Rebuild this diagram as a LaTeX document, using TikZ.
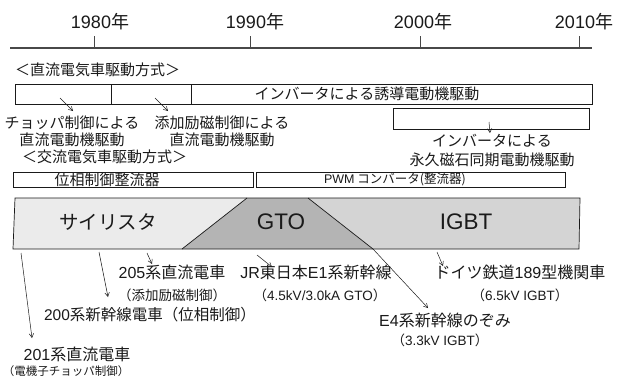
\documentclass[tikz,border=0pt]{standalone}
\usepackage{fontspec}
\setmainfont{Noto Sans CJK JP}
\newfontfamily\lat{Liberation Sans}
\usetikzlibrary{arrows.meta}
\definecolor{thy}{HTML}{EBEBEB}
\definecolor{gto}{HTML}{B4B4B4}
\definecolor{igbt}{HTML}{D4D4D4}
\definecolor{ink}{HTML}{1A1A1A}
\newcommand{\fs}[1]{\fontsize{#1}{#1}\selectfont}
\tikzset{
  tline/.style={draw=ink!80, line width=1.2pt},
  tick/.style={draw=ink!80, line width=0.8pt},
  box/.style={draw=ink, line width=0.7pt, anchor=north west, inner sep=0pt, outer sep=0pt},
  arr/.style={draw=ink, line width=0.5pt, -{Straight Barb[length=4pt,width=4.5pt]}},
  yr/.style={font=\fs{18}, inner sep=0pt, text=ink},
  hd/.style={font=\fs{15}, inner sep=0pt, anchor=west, text=ink},
  txt/.style={font=\fs{15}, inner sep=0pt, align=center, text=ink},
  low/.style={font=\fs{16}, inner sep=0pt, align=center, text=ink},
  sml/.style={font=\fs{13.5}, inner sep=0pt, align=center, text=ink},
  big/.style={font=\fs{19.5}, inner sep=0pt, text=ink},
  bigl/.style={font=\lat\fs{22.5}, inner sep=0pt, text=ink},
  band/.style={draw=ink, line width=0.7pt}
}
\begin{document}
\begin{tikzpicture}[x=1pt,y=-1pt]
\useasboundingbox (0,0) rectangle (620,378);
\fill[white] (0,0) rectangle (620,378);

% timeline
\coordinate (tlL) at (10,48);
\coordinate (tlR) at (592,48);
\draw[tline] (tlL) -- (tlR);
\node[yr] (y1980) at (100,22) {{\lat 1980}年};
\node[yr] (y1990) at (255,22) {{\lat 1990}年};
\node[yr] (y2000) at (423,22) {{\lat 2000}年};
\node[yr] (y2010) at (584,22) {{\lat 2010}年};
\coordinate (k1980) at (94,48);
\coordinate (k1990) at (250,48);
\coordinate (k2000) at (420,48);
\coordinate (k2010) at (579,48);
\foreach \k in {k1980,k1990,k2000,k2010} \draw[tick] (\k) -- ++(0,-12);

% DC drive heading and boxes
\node[hd] (hdc) at (15,70) {＜直流電気車駆動方式＞};
\node[box, minimum width=96pt, minimum height=20pt] (b1) at (15,84) {};
\node[box, minimum width=80pt, minimum height=20pt] (b2) at (111,84) {};
\node[box, minimum width=401pt, minimum height=20pt] (b3) at (191,84) {};
\node[txt] (t3) at (367,93.5) {インバータによる誘導電動機駆動};
\coordinate (a1s) at (60,98); \coordinate (a1e) at (73,111);
\coordinate (a2s) at (155,98); \coordinate (a2e) at (168,111);
\draw[arr] (a1s) -- (a1e);
\draw[arr] (a2s) -- (a2e);
\node[txt] (t1) at (72,131.5) {チョッパ制御による\\[2pt]直流電動機駆動};
\node[txt] (t2) at (222,131.5) {添加励磁制御による\\[2pt]直流電動機駆動};

% PM motor box
\node[box, minimum width=196pt, minimum height=21pt] (b4) at (393,108) {};
\coordinate (a4s) at (489,122); \coordinate (a4e) at (490,133);
\draw[arr] (a4s) -- (a4e);
\node[txt] (t4) at (492,150) {インバータによる\\[4pt]永久磁石同期電動機駆動};

% AC drive heading and boxes
\node[hd] (hac) at (22,157) {＜交流電気車駆動方式＞};
\node[box, minimum width=240pt, minimum height=15pt] (b5) at (13,172) {};
\node[txt] (t5) at (107,179.5) {位相制御整流器};
\node[box, minimum width=309pt, minimum height=15pt] (b6) at (256,172) {};
\node[txt, font=\fs{12.5}] (t6) at (395,179.5) {{\lat PWM} コンバータ(整流器)};

% device band
\coordinate (p1) at (15,198);
\coordinate (p2) at (247,198);
\coordinate (p3) at (308,198);
\coordinate (p4) at (580,198);
\coordinate (p5) at (579,249);
\coordinate (p6) at (373,249);
\coordinate (p7) at (182,249);
\coordinate (p8) at (13,249);
\fill[thy] (p1) -- (p2) -- (p7) -- (p8) -- cycle;
\fill[gto] (p2) -- (p3) -- (p6) -- (p7) -- cycle;
\fill[igbt] (p3) -- (p4) -- (p5) -- (p6) -- cycle;
\draw[band] (p1) -- (p4) -- (p5) -- (p8) -- cycle;
\draw[band] (p2) -- (p7);
\draw[band] (p3) -- (p6);
\node[big] (thyl) at (108,222) {サイリスタ};
\node[bigl] (gtol) at (281,222) {GTO};
\node[bigl] (igbtl) at (466,222) {IGBT};

% examples
\coordinate (e1s) at (21,253); \coordinate (e1e) at (32,338);
\coordinate (e2s) at (99,252); \coordinate (e2e) at (108,297);
\coordinate (e3s) at (147,253); \coordinate (e3e) at (152,264);
\coordinate (e4s) at (257,255); \coordinate (e4e) at (272,267);
\coordinate (e6s) at (437,252); \coordinate (e6e) at (443,266);
\coordinate (e5e) at (428,308);
\draw[arr] (e1s) -- (e1e);
\draw[arr] (e2s) -- (e2e);
\draw[arr] (e3s) -- (e3e);
\draw[arr] (e4s) -- (e4e);
\draw[arr] (p6) -- (e5e);
\draw[arr] (e6s) -- (e6e);

\node[low] (l205) at (172,272) {{\lat 205}系直流電車};
\node[sml] (l205b) at (172,295) {（添加励磁制御）};
\node[low, font=\fs{15.5}] (l200) at (150,315) {{\lat 200}系新幹線電車（位相制御）};
\node[low] (l201) at (77,354) {{\lat 201}系直流電車};
\node[sml, font=\fs{11.5}] (l201b) at (66,371) {（電機子チョッパ制御）};
\node[low] (lE1) at (316,272) {{\lat JR}東日本{\lat E1}系新幹線};
\node[sml] (lE1b) at (320,295) {（{\lat 4.5kV/3.0kA GTO}）};
\node[low] (lDB) at (520,272) {ドイツ鉄道{\lat 189}型機関車};
\node[sml] (lDBb) at (520,295) {（{\lat 6.5kV IGBT}）};
\node[low] (lE4) at (445,320) {{\lat E4}系新幹線のぞみ};
\node[sml] (lE4b) at (440,340) {（{\lat 3.3kV IGBT}）};
\end{tikzpicture}
\end{document}
